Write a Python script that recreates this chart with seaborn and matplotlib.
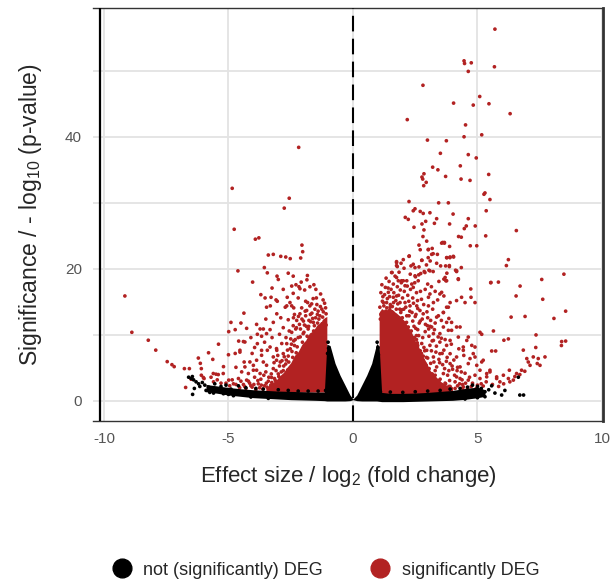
import matplotlib
matplotlib.use('Agg')
import matplotlib.pyplot as plt
from matplotlib.lines import Line2D
import pandas as pd
import seaborn as sns

# Volcano plot values (log2 fold change, -log10 p-value)

# Sparse significant genes, up-regulated side
red_up_sparse = [
    (5.70, 56.3), (4.46, 51.5), (4.48, 51.1), (4.75, 51.2), (4.63, 49.9), (5.68, 50.6), (2.81, 47.8),
    (5.09, 46.1), (4.04, 45.1), (4.83, 44.8), (5.46, 45.0), (6.31, 43.5), (2.18, 42.6), (4.52, 41.8),
    (4.46, 40.0), (5.17, 40.3), (2.99, 39.5), (3.75, 39.4), (3.51, 37.5), (4.63, 37.3), (4.95, 36.8),
    (3.20, 35.4), (3.41, 35.0), (4.31, 35.6), (2.85, 34.4), (2.77, 33.9), (2.80, 33.6), (2.94, 33.1),
    (2.84, 32.6), (3.72, 34.0), (4.34, 33.6), (4.70, 33.4), (5.45, 34.3), (5.26, 31.3), (5.30, 31.5),
    (5.50, 30.5), (2.25, 30.2), (3.44, 30.0), (3.83, 30.0), (5.35, 28.8), (4.02, 28.3), (6.56, 25.8),
    (5.33, 25.0), (4.71, 23.5), (6.24, 21.4), (6.16, 20.5), (8.47, 19.2), (7.58, 18.4), (5.53, 17.9),
    (5.84, 18.0), (6.71, 17.4), (6.55, 15.9), (7.62, 15.4), (4.74, 15.7),
    (6.35, 12.7), (6.91, 12.8), (8.07, 12.5), (8.54, 13.6), (7.35, 10.0), (8.38, 9.0), (8.54, 9.07),
    (8.37, 8.4), (5.64, 10.6), (5.10, 10.4), (5.17, 10.1), (6.24, 9.4), (6.84, 7.7), (7.34, 8.1),
    (5.57, 7.57), (5.73, 7.57), (6.06, 9.2), (6.98, 6.42), (7.11, 5.4), (7.24, 6.67), (7.44, 6.42),
    (7.71, 6.67), (7.51, 5.4), (7.40, 5.67), (7.04, 5.9), (6.77, 4.66), (6.57, 4.16), (6.28, 4.66),
    (6.04, 3.9), (5.77, 3.4), (5.50, 4.4), (5.90, 2.9), (6.24, 3.4), (6.44, 3.16), (4.57, 9.17),
    (4.90, 8.17), (4.70, 6.42), (4.97, 5.4), (4.43, 7.67), (4.83, 7.17), (5.23, 6.17), (5.10, 4.66),
    (5.37, 3.66), (4.50, 14.9), (4.90, 14.9), (3.76, 11.9), (3.96, 11.9), (3.63, 13.4), (3.76, 14.2),
    (4.16, 11.2), (5.54, 17.95), (4.73, 16.96), (4.97, 23.5),
]

# Significant genes, up-regulated side, body of the cloud
red_up_mid = [
    (2.42, 28.8), (2.49, 29.1), (2.70, 28.7), (2.82, 28.4), (3.09, 28.5), (2.10, 27.8), (2.22, 27.5),
    (2.92, 27.2), (2.77, 26.8), (2.85, 25.9), (2.81, 24.9), (2.45, 26.3), (3.27, 26.9), (3.36, 27.6),
    (3.88, 26.8), (4.63, 27.6), (4.55, 26.5), (4.47, 26.1), (4.91, 26.5), (4.24, 24.9), (4.35, 24.8),
    (2.65, 23.6), (2.96, 24.2), (3.60, 24.0), (3.67, 24.0), (3.88, 23.4), (2.70, 22.9), (3.02, 22.9),
    (3.18, 23.1), (3.22, 22.3), (3.02, 21.7), (3.10, 21.2), (3.36, 20.85), (3.52, 20.45), (3.77, 21.7),
    (3.89, 21.7), (4.04, 21.8), (3.72, 20.45), (3.87, 20.35), (4.12, 19.8), (4.35, 20.2), (2.25, 21.9),
    (2.77, 21.3), (2.49, 20.2), (2.33, 20.45), (1.93, 20.85), (1.75, 21.1), (1.78, 20.35), (1.57, 19.45),
    (1.75, 18.7), (1.95, 18.2), (2.16, 18.2), (2.51, 18.8), (2.64, 19.1), (2.86, 19.6), (3.05, 19.8),
    (3.22, 19.6), (3.65, 18.45), (3.73, 18.2), (4.23, 18.4), (3.77, 19.35), (4.16, 19.6),
    (1.75, 20.96), (2.02, 21.4), (2.26, 21.96), (1.75, 20.5), (2.42, 20.7), (2.76, 21.3), (3.03, 22.96),
    (3.16, 22.2), (3.39, 22.2), (3.56, 23.9), (3.67, 23.9), (3.76, 21.7), (3.90, 21.8), (4.03, 21.9),
    (3.87, 20.5), (4.16, 19.7), (4.23, 18.5), (3.70, 18.7), (3.76, 18.2), (3.56, 16.45), (3.49, 16.2),
    (3.23, 14.9), (3.03, 15.7), (3.09, 16.2), (2.62, 18.2), (2.49, 18.95), (2.72, 19.3), (2.89, 19.45),
    (3.09, 19.7), (1.55, 19.45), (1.62, 17.7), (1.82, 18.2), (2.02, 18.2), (2.09, 17.45), (2.36, 17.7),
    (2.42, 17.2), (1.42, 16.45), (1.62, 15.7), (1.75, 15.9), (1.89, 14.9), (2.09, 14.9), (2.29, 14.4),
    (1.35, 14.9), (1.49, 14.2), (1.29, 13.4), (2.56, 14.4), (2.69, 13.7), (2.82, 13.2), (3.03, 14.4),
    (3.36, 12.7), (3.43, 12.9), (3.63, 13.4), (3.83, 14.2), (3.90, 14.9), (4.16, 15.2), (4.36, 15.7),
    (4.30, 11.2), (3.96, 10.7), (3.83, 10.7), (3.63, 11.2), (3.49, 10.2), (3.23, 10.2), (3.16, 11.2),
    (2.99, 11.4), (3.23, 9.17), (3.09, 8.42), (3.49, 8.92), (3.76, 8.42), (3.90, 9.17), (4.23, 9.68),
    (4.63, 9.68), (4.43, 8.17), (4.77, 8.42), (4.90, 6.66), (4.16, 6.66), (3.90, 5.66), (4.30, 5.16),
    (4.63, 5.66), (5.17, 5.91), (5.37, 4.15), (5.50, 4.66), (5.77, 3.65), (3.90, 7.16), (3.49, 7.16),
    (3.23, 6.66), (2.96, 7.67), (2.82, 6.17), (3.36, 5.16), (3.63, 4.15), (4.16, 3.65), (4.63, 3.16),
    (4.43, 2.15), (5.10, 3.4), (5.23, 2.26),
    (2.6, 5.2), (2.7, 4.1), (2.8, 3.0), (2.9, 5.6), (3.0, 4.4), (3.1, 2.8), (3.2, 3.7), (3.3, 4.6),
    (3.4, 2.4), (3.5, 3.3), (3.6, 5.5), (3.7, 2.7), (3.8, 3.9), (3.9, 2.2), (4.0, 4.8), (4.1, 2.9),
    (4.2, 5.1), (4.3, 3.4), (4.4, 2.5), (4.5, 4.2), (4.6, 1.9), (4.8, 2.7), (4.9, 3.9), (5.0, 2.4),
    (2.65, 6.4), (2.75, 7.2), (2.85, 8.1), (2.95, 6.6), (3.05, 9.8), (3.15, 7.6), (3.25, 5.9), (3.35, 8.3),
    (3.45, 6.3), (3.55, 9.5), (3.65, 7.7), (3.75, 6.0), (3.85, 4.6), (3.95, 8.6), (4.05, 6.2), (4.25, 7.9),
    (4.35, 4.4), (4.45, 6.9), (2.55, 9.3), (2.6, 10.8), (2.7, 12.1), (2.8, 9.6), (2.9, 10.5), (3.0, 12.6),
    (3.1, 11.3), (3.2, 13.9), (3.3, 11.8), (3.4, 15.3), (3.55, 12.2), (3.65, 15.9), (3.7, 9.3), (3.85, 12.5),
    (2.5, 12.8), (2.6, 14.0), (2.4, 15.6), (2.55, 16.4), (2.75, 15.4), (2.9, 16.9), (3.0, 17.7), (3.15, 17.3),
    (3.3, 16.6), (3.45, 18.1), (1.2, 15.8), (1.3, 17.2), (1.45, 18.1), (1.15, 13.3), (1.9, 16.8), (2.2, 16.0),
    (2.3, 19.2), (1.85, 19.5), (2.05, 20.1), (2.65, 20.3), (2.95, 20.6),
    (1.08, 14.2), (1.12, 13.1), (1.18, 15.1), (1.24, 14.4), (1.32, 13.6), (1.38, 15.5), (1.44, 12.8),
    (1.5, 14.6), (1.56, 13.5), (1.63, 14.9), (1.68, 12.7), (1.74, 13.9), (1.8, 14.7), (1.86, 12.2),
    (1.92, 13.4), (1.98, 12.6), (2.04, 13.9), (2.1, 11.8), (2.16, 12.9), (2.22, 11.2), (2.28, 13.6),
    (2.34, 10.6), (2.4, 12.1), (2.46, 9.6), (2.52, 11.0), (2.58, 8.8), (2.64, 9.9), (2.7, 7.6),
    (2.76, 8.7), (2.82, 6.8), (2.88, 7.6), (2.94, 5.4), (3.0, 6.5), (3.06, 4.9), (3.12, 5.7), (3.18, 4.1),
    (3.24, 3.2), (3.3, 3.9), (3.38, 2.7), (3.46, 3.1), (3.55, 2.4), (3.64, 2.0), (3.72, 2.6), (3.85, 2.2),
    (3.95, 1.9), (4.2, 2.3), (4.4, 1.9), (1.1, 12.4), (1.2, 11.6), (1.3, 12.9), (1.4, 11.1), (1.55, 12.3),
    (1.7, 11.7), (1.85, 12.6), (2.0, 11.0), (2.15, 11.9), (2.3, 10.4), (2.45, 11.3), (2.55, 9.9),
    (1.6, 13.4), (1.95, 13.8), (2.25, 12.9), (2.4, 8.8), (2.5, 7.6), (2.6, 8.4), (2.7, 6.9), (2.75, 5.5),
    (2.85, 4.6), (2.95, 3.6), (3.05, 2.6), (3.2, 1.9), (3.35, 2.0), (3.5, 1.8), (3.8, 1.8), (4.1, 1.9),
]

# Significant genes, up-regulated side, fringe of the dense core
red_up_fringe = [
    (1.12, 16.4), (1.16, 17.6), (1.22, 14.9), (1.27, 16.1), (1.33, 18.6), (1.36, 14.1), (1.41, 17.1),
    (1.47, 15.8), (1.53, 16.9), (1.58, 14.3), (1.64, 16.4), (1.69, 18.9), (1.72, 15.2), (1.78, 17.3),
    (1.83, 16.0), (1.88, 13.9), (1.94, 17.9), (1.99, 15.6), (2.06, 16.6), (2.12, 14.2), (2.18, 17.4),
    (2.24, 15.1), (2.31, 16.9), (2.37, 13.4), (2.43, 14.8), (2.48, 17.9), (2.53, 13.1), (2.59, 15.2),
    (2.66, 11.8), (2.71, 16.6), (2.78, 12.4), (2.84, 14.6), (2.91, 11.6), (2.97, 13.5), (3.04, 10.9),
    (3.12, 12.2), (3.18, 9.1), (3.27, 10.8), (3.33, 7.4), (3.42, 9.7), (3.48, 5.8), (3.58, 7.2),
    (3.68, 4.9), (3.78, 6.6), (3.88, 3.1), (3.98, 5.3), (4.08, 3.9), (4.18, 4.6), (4.28, 2.6),
    (4.38, 3.2), (4.52, 2.7), (4.68, 3.6), (4.75, 2.2), (4.95, 1.9), (5.15, 2.6), (5.35, 2.9),
    (5.6, 2.5), (5.85, 2.2), (6.05, 2.6), (6.3, 2.9), (6.5, 3.7), (6.7, 4.0), (6.9, 4.5),
]

# Significant genes, down-regulated side
red_down = [
    (-2.18, 38.4), (-4.85, 32.2), (-2.56, 30.7), (-2.76, 29.2), (-4.77, 26.0), (-3.92, 24.5), (-3.78, 24.7),
    (-2.05, 23.6), (-2.02, 22.6), (-3.40, 22.1), (-3.20, 22.2), (-2.90, 21.9), (-2.70, 21.8), (-2.52, 21.55),
    (-2.10, 21.65), (-4.62, 19.7), (-3.56, 20.2), (-3.44, 19.4), (-4.03, 18.0), (-3.05, 18.9), (-3.0, 18.4),
    (-2.60, 19.35), (-2.40, 18.9), (-2.46, 17.4), (-2.29, 17.6), (-2.17, 17.3), (-2.13, 17.0), (-1.83, 19.0),
    (-1.85, 18.35), (-1.73, 17.3), (-1.57, 17.6), (-1.49, 16.9), (-1.94, 16.8), (-2.08, 18.0), (-9.16, 15.9),
    (-8.88, 10.4), (-8.22, 9.2), (-7.92, 7.7), (-7.46, 5.96), (-7.27, 5.5), (-7.18, 5.2), (-6.77, 4.9),
    (-6.57, 4.9), (-6.21, 6.5), (-6.13, 5.7), (-6.09, 4.9), (-6.09, 3.9), (-5.63, 6.3), (-6.72, 2.05),
    (-5.98, 3.4), (-5.50, 4.06), (-5.41, 4.0), (-4.99, 3.16), (-4.99, 10.5), (-4.73, 10.8), (-4.50, 11.8),
    (-4.27, 11.0), (-4.90, 11.9), (-4.38, 13.3), (-4.59, 9.07), (-4.40, 9.0), (-4.73, 7.2), (-4.54, 7.4),
    (-3.87, 11.6), (-3.73, 10.9), (-3.60, 10.9), (-3.84, 10.1), (-3.47, 10.2), (-3.53, 15.6), (-3.29, 15.7),
    (-3.09, 15.3), (-3.04, 15.1), (-3.06, 13.2), (-3.32, 14.4), (-2.64, 15.7), (-2.72, 14.2), (-2.46, 14.4),
    (-2.38, 14.1), (-4.37, 5.9), (-4.00, 5.4), (-3.60, 5.9), (-3.87, 4.66), (-4.20, 4.16), (-3.67, 7.67),
    (-3.33, 8.17), (-3.06, 7.67), (-3.20, 6.67),
    (-6.01, 3.56), (-5.61, 4.16), (-5.21, 4.16), (-3.33, 10.8), (-3.67, 9.8), (-3.47, 14.2), (-2.66, 14.4),
    (-2.53, 14.9), (-4.34, 8.93), (-4.54, 7.68), (-3.84, 8.68), (-4.14, 5.91), (-3.87, 6.17), (-3.67, 6.92),
    (-3.44, 7.68), (-3.07, 7.93), (-4.34, 5.16), (-4.47, 4.41), (-4.27, 3.16), (-4.00, 4.66), (-3.73, 4.16),
    (-3.47, 5.41), (-3.27, 3.56), (-3.07, 6.17), (-2.80, 7.17), (-2.66, 8.68), (-2.46, 10.4), (-2.40, 11.4),
    (-2.26, 12.2), (-2.13, 13.2), (-1.86, 13.7), (-1.73, 14.4), (-2.00, 10.2), (-1.60, 9.18), (-1.33, 12.9),
    (-1.26, 11.2),
    (-4.8, 2.6), (-4.6, 3.4), (-4.4, 2.5), (-4.2, 3.0), (-4.1, 2.3), (-3.95, 3.6), (-3.8, 2.6), (-3.7, 3.3),
    (-3.55, 2.3), (-3.5, 4.4), (-3.4, 3.0), (-3.3, 2.4), (-3.2, 4.9), (-3.15, 3.4), (-3.1, 2.6), (-3.0, 4.1),
    (-2.95, 5.3), (-2.9, 3.0), (-2.85, 6.1), (-2.8, 4.6), (-2.75, 2.5), (-2.7, 5.6), (-2.65, 3.6), (-2.6, 6.8),
    (-2.55, 4.3), (-2.5, 9.4), (-2.45, 7.5), (-2.35, 8.4), (-2.3, 10.9), (-2.2, 9.6), (-2.15, 11.6),
    (-2.05, 12.4), (-1.95, 11.5), (-1.9, 12.9), (-1.8, 10.9), (-1.7, 12.0), (-1.65, 13.3), (-1.55, 11.4),
    (-1.5, 12.6), (-1.45, 14.6), (-1.4, 13.6), (-1.35, 10.6), (-1.25, 13.9), (-1.2, 15.3), (-1.15, 12.1),
    (-1.1, 14.1), (-1.3, 16.2), (-1.6, 15.5), (-1.9, 15.1), (-2.2, 15.6), (-2.4, 16.3), (-2.8, 16.9),
    (-3.25, 17.1), (-3.7, 16.1), (-5.2, 5.2), (-5.3, 2.7), (-5.6, 2.9), (-4.95, 2.3), (-4.7, 5.1),
    (-4.05, 7.2), (-3.95, 8.1), (-3.55, 8.9), (-3.25, 9.6), (-2.95, 10.1), (-2.8, 11.1), (-2.6, 12.3),
    (-2.35, 13.1), (-2.9, 12.6), (-3.2, 11.9), (-3.5, 12.4), (-4.1, 9.6), (-5.4, 8.6), (-5.0, 7.0),
    (-5.8, 7.3), (-6.5, 3.3),
    (-1.12, 10.8), (-1.18, 9.6), (-1.08, 11.5), (-1.22, 12.7), (-1.28, 10.2), (-1.35, 9.4), (-1.42, 11.8),
    (-1.48, 10.1), (-1.52, 8.9), (-1.58, 10.6), (-1.62, 12.5), (-1.68, 9.3), (-1.72, 8.1), (-1.78, 11.3),
    (-1.84, 9.8), (-1.88, 8.6), (-1.93, 7.4), (-1.97, 10.4), (-2.03, 8.9), (-2.08, 7.1), (-2.12, 9.7),
    (-2.18, 6.4), (-2.24, 8.2), (-2.28, 7.3), (-2.33, 5.6), (-2.38, 9.1), (-2.42, 6.6), (-2.48, 5.1),
    (-2.52, 7.9), (-2.58, 5.9), (-2.62, 4.7), (-2.68, 6.2), (-2.72, 3.9), (-2.78, 5.3), (-2.83, 3.4),
    (-2.88, 4.4), (-2.93, 2.9), (-2.98, 3.7), (-3.04, 2.2), (-3.12, 3.1), (-3.18, 1.9), (-3.26, 2.8),
    (-3.35, 1.7), (-3.45, 2.1), (-3.62, 1.8), (-3.75, 2.0), (-3.9, 1.7), (-4.05, 2.1), (-4.3, 1.9),
    (-4.55, 2.0),
    (-1.08, 13.2), (-1.14, 14.8), (-1.19, 13.5), (-1.24, 11.7), (-1.31, 14.3), (-1.37, 12.4), (-1.43, 13.1),
    (-1.47, 15.6), (-1.53, 13.9), (-1.59, 11.9), (-1.66, 14.7), (-1.71, 13.1), (-1.77, 12.2), (-1.82, 14.9),
    (-1.87, 11.3), (-1.92, 13.6), (-1.99, 12.1), (-2.06, 14.1), (-2.11, 10.9), (-2.19, 12.8), (-2.27, 11.1),
    (-2.32, 9.3), (-2.39, 12.6), (-2.47, 8.6), (-2.56, 10.6), (-2.63, 7.7), (-2.69, 9.6), (-2.76, 6.7),
    (-2.86, 8.7), (-2.92, 5.9), (-3.02, 6.9), (-3.09, 4.6), (-3.17, 5.8), (-3.28, 4.1), (-3.38, 3.6),
    (-3.48, 2.7), (-3.58, 3.9), (-3.68, 2.4), (-3.82, 3.1), (-3.98, 2.5), (-4.15, 2.7), (-4.35, 2.2),
    (-4.5, 3.0), (-4.7, 2.5), (-4.85, 3.2), (-5.1, 2.7), (-5.45, 3.2), (-5.7, 3.6),
]

# Non-significant genes at the edges of the dense band
black_pts = [
    (-6.6, 3.6), (-6.5, 3.4), (-6.45, 3.7), (-6.4, 3.2), (-6.3, 2.9), (-6.37, 1.9), (-6.44, 1.0),
    (-6.2, 2.6), (-6.15, 2.2), (-6.05, 2.8), (-5.95, 2.4), (-5.9, 1.6), (-5.8, 2.1), (-5.75, 1.3),
    (-5.6, 1.9), (-5.55, 2.6), (-5.45, 1.5), (-5.3, 2.2), (-5.2, 1.1), (-5.1, 2.4), (-4.9, 1.8),
    (-4.8, 0.8), (-4.6, 2.3), (-4.5, 1.2), (-4.3, 2.0), (-4.1, 0.6), (-3.9, 1.9), (-3.6, 1.8),
    (-3.4, 0.4), (-3.0, 1.7), (-2.6, 1.6), (-2.2, 1.5), (-1.8, 1.5), (-1.4, 1.5), (-1.1, 1.6),
    (-1.0, 8.9), (-0.98, 8.0), (-1.02, 7.2), (0.97, 8.9), (1.0, 8.1), (1.02, 7.0), (1.1, 1.4),
    (1.5, 1.35), (2.0, 1.3), (2.5, 1.4), (3.0, 1.5), (3.5, 1.6), (3.9, 1.8), (4.3, 1.9), (4.6, 2.1),
    (4.8, 2.4), (5.0, 2.2), (5.15, 1.9), (5.3, 1.4), (5.3, 0.65), (5.45, 1.7), (5.57, 2.3), (5.7, 1.2),
    (5.97, 0.9), (6.1, 1.6), (6.64, 3.6), (6.7, 0.9), (6.85, 0.9), (5.0, 0.5), (4.5, 0.3), (-5.0, 1.0),
    (-5.6, 1.2),
]

# Envelope of the dense non-significant cloud (band plus V around zero)
band_x = [-5.9, -5.5, -5.0, -4.5, -4.0, -3.5, -3.0, -2.5, -2.0, -1.5, -1.15, -1.05, -0.92, -0.72,
          -0.52, -0.32, -0.12, 0.0, 0.15, 0.35, 0.55, 0.75, 0.95, 1.05, 1.15, 1.5, 2.0, 2.5, 3.0,
          3.5, 4.0, 4.5, 5.0, 5.3]
band_hi = [2.5, 2.3, 2.05, 1.85, 1.7, 1.6, 1.5, 1.45, 1.4, 1.35, 1.35, 8.6, 8.4, 5.7,
           3.9, 2.4, 0.9, 0.3, 0.9, 2.4, 3.9, 5.7, 8.7, 8.3, 1.3, 1.15, 1.15, 1.2, 1.3,
           1.45, 1.6, 1.9, 2.1, 1.7]
band_lo = [1.4, 1.2, 0.9, 0.7, 0.5, 0.4, 0.3, 0.2, 0.15, 0.1, 0.05, 0.0, 0.0, 0.0,
           0.0, 0.0, 0.05, 0.2, 0.05, 0.0, 0.0, 0.0, 0.0, -0.05, -0.1, -0.1, -0.1, -0.05, 0.0,
           0.05, 0.1, 0.25, 0.5, 0.7]

# Envelopes of the dense significant cores
core_down_x = [-3.5, -3.3, -3.1, -2.95, -2.8, -2.65, -2.5, -2.35, -2.2, -2.05, -1.9, -1.75,
               -1.6, -1.45, -1.3, -1.15, -1.05]
core_down_hi = [2.0, 2.6, 3.1, 3.8, 4.3, 5.1, 5.8, 6.9, 7.5, 8.6, 9.2, 10.3, 10.6, 11.5, 11.9,
                12.6, 12.8]
core_up_x = [1.05, 1.15, 1.3, 1.45, 1.6, 1.75, 1.9, 2.05, 2.2, 2.35, 2.5, 2.65, 2.8, 2.95, 3.1,
             3.3, 3.5, 3.75, 4.0]
core_up_hi = [13.4, 14.0, 13.6, 14.2, 13.7, 13.3, 12.8, 12.2, 11.3, 10.4, 9.1, 8.1, 6.8, 5.8, 4.6,
              3.8, 3.0, 2.4, 1.9]

labels = ['not (significantly) DEG', 'significantly DEG']
colors = {labels[0]: '#000000', labels[1]: '#B22222'}

red = red_up_sparse + red_up_mid + red_up_fringe + red_down
df = pd.DataFrame({
    'lfc': [p[0] for p in red] + [p[0] for p in black_pts],
    'sig': [p[1] for p in red] + [p[1] for p in black_pts],
    'status': [labels[1]] * len(red) + [labels[0]] * len(black_pts),
})

sns.set_theme(style='white')
plt.rcParams['font.family'] = ['Liberation Sans', 'DejaVu Sans']

fig = plt.figure(figsize=(6.13, 5.83), dpi=100)
ax = fig.add_axes([93 / 613, 1 - 421 / 583, 510 / 613, 413 / 583])

# dense cores
ax.fill_between(core_down_x, 1.35, core_down_hi, color=colors[labels[1]], lw=0, zorder=2)
ax.fill_between(core_up_x, 1.1, core_up_hi, color=colors[labels[1]], lw=0, zorder=2)

sns.scatterplot(data=df, x='lfc', y='sig', hue='status', palette=colors, s=7,
                linewidth=0, legend=False, ax=ax, zorder=3)

ax.fill_between(band_x, band_lo, band_hi, color='black', lw=0, zorder=4)

ax.axvline(0, color='black', lw=1.5, linestyle=(0, (7.5, 3.5)), zorder=5)
ax.axvline(-10.17, color='black', lw=1.6, zorder=5)

ax.set_xlim(-10.44, 10.04)
ax.set_ylim(-3.03, 59.5)
ax.set_xticks([-10, -5, 0, 5, 10])
ax.set_xticklabels(['-10', '-5', '0', '5', '10'])
ax.set_yticks([0, 20, 40])
ax.set_yticks([10, 30, 50], minor=True)
ax.grid(True, which='both', axis='y', color='#E3E3E3', lw=1.3)
ax.grid(True, which='major', axis='x', color='#E3E3E3', lw=1.3)
ax.set_axisbelow(True)
ax.tick_params(axis='both', which='both', length=0, labelsize=11, labelcolor='#555555')
ax.tick_params(axis='x', pad=8)
ax.tick_params(axis='y', pad=8)

ax.spines['left'].set_visible(False)
for side in ['top', 'bottom']:
    ax.spines[side].set_color('#333333')
    ax.spines[side].set_linewidth(1.0)
ax.spines['right'].set_color('#333333')
ax.spines['right'].set_linewidth(2.0)

ax.set_xlabel('Effect size / log$_{\\mathregular{2}}$ (fold change)', fontsize=16, labelpad=13)
ax.set_ylabel('Significance / - log$_{\\mathregular{10}}$ (p-value)', fontsize=16.5, labelpad=15)

handles = [Line2D([], [], marker='o', ls='', color=colors[l], markersize=13.5) for l in labels]
fig.legend(handles, labels, loc='center', bbox_to_anchor=(0.529, 0.022), ncol=2, frameon=False,
           fontsize=13, handlelength=1.4, handletextpad=0.5, columnspacing=2.45)

fig.savefig('out.png', dpi=100)
